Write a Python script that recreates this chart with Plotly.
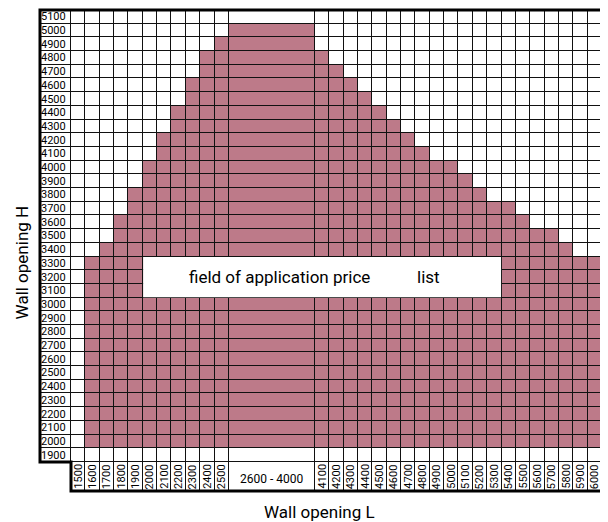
import plotly.graph_objects as go

# ---------------- data ----------------
row_labels = [1900, 2000, 2100, 2200, 2300, 2400, 2500, 2600, 2700, 2800, 2900,
              3000, 3100, 3200, 3300, 3400, 3500, 3600, 3700, 3800, 3900, 4000,
              4100, 4200, 4300, 4400, 4500, 4600, 4700, 4800, 4900, 5000, 5100]

col_labels = ["1500", "1600", "1700", "1800", "1900", "2000", "2100", "2200",
              "2300", "2400", "2500", "2600 - 4000", "4100", "4200", "4300",
              "4400", "4500", "4600", "4700", "4800", "4900", "5000", "5100",
              "5200", "5300", "5400", "5500", "5600", "5700", "5800", "5900",
              "6000", "6100"]

# highest filled H for each L column (None = empty column)
top_filled = [None, 3300, 3400, 3600, 3800, 4000, 4200, 4400, 4600, 4800, 4900,
              5000,
              4800, 4700, 4600, 4500, 4400, 4300, 4200, 4100, 4000, 4000, 3900,
              3800, 3700, 3700, 3600, 3500, 3500, 3400, 3300, 3300, None]
fill_bottom = 2000

box_cols = ("2000", "5300")
box_rows = (3100, 3300)
box_texts = ["field of application price", "list"]

x_title = "Wall opening L"
y_title = "Wall opening H"

# ---------------- layout constants ----------------
MAUVE = "#bd7a89"
FONT_N = "Roboto, Liberation Sans, sans-serif"
FONT_R = "Roboto, Liberation Sans, sans-serif"
LABEL_W = 2.16      # width of the H label column (cell units)
LABEL_H = 2.12      # height of the L label row (cell units)
MERGED_W = 6        # width of the merged 2600-4000 column
PXX, PXY = 14.35, 13.7
W, H = 600, 514     # page body has an 8px margin
ML, MT = 28, 0
PAD, PADT = 4, 2

widths = [MERGED_W if "-" in c else 1 for c in col_labels]
x_edges = [-LABEL_W, 0]
for w in widths:
    x_edges.append(x_edges[-1] + w)
n_rows = len(row_labels)
y_edges = [-LABEL_H] + list(range(n_rows + 1))

z = [[None] + [0] * len(col_labels)]
for r in row_labels:
    row = [0]
    for top in top_filled:
        row.append(1 if (top is not None and fill_bottom <= r <= top) else 0)
    z.append(row)

x0r = -LABEL_W - PAD / PXX
x1r = x0r + (W - ML) / PXX
plot_h = LABEL_H * PXY + n_rows * PXY + PAD + PADT
y0r = -LABEL_H - PAD / PXY
y1r = n_rows + PADT / PXY
MB = H - MT - plot_h

fig = go.Figure(go.Heatmap(
    x=x_edges, y=y_edges, z=z,
    colorscale=[[0, "white"], [1, MAUVE]], zmin=0, zmax=1,
    showscale=False, xgap=1, ygap=1, hoverinfo="skip",
))

xmax = x_edges[-1]
top = n_rows
shapes = [
    dict(type="path", layer="below", xref="x", yref="y",
         path=f"M {-LABEL_W},0 L {-LABEL_W},{top} L {xmax},{top} L {xmax},{-LABEL_H} L 0,{-LABEL_H} L 0,0 Z",
         fillcolor="#111111", line=dict(width=0)),
]
# white price-list box
ci0 = col_labels.index(box_cols[0])
ci1 = col_labels.index(box_cols[1])
bx0, bx1 = x_edges[ci0 + 1], x_edges[ci1 + 2]
by0 = row_labels.index(box_rows[0])
by1 = row_labels.index(box_rows[1]) + 1
shapes.append(dict(type="rect", xref="x", yref="y", x0=bx0 + 0.03, x1=bx1 - 0.03,
                   y0=by0 + 0.03, y1=by1 - 0.03, fillcolor="white", line=dict(width=0)))
# thick outer border
shapes.append(dict(type="path", xref="x", yref="y",
                   path=f"M {xmax},{top} L {-LABEL_W},{top} L {-LABEL_W},0 L 0,0 L 0,{-LABEL_H} L {xmax},{-LABEL_H}",
                   line=dict(color="black", width=3)))

annotations = []
for i, r in enumerate(row_labels):
    annotations.append(dict(x=-LABEL_W, y=i + 0.5, xref="x", yref="y", text=str(r),
                            showarrow=False, xanchor="left", yanchor="middle", xshift=-1,
                            font=dict(family=FONT_N, size=11, color="black")))
for j, c in enumerate(col_labels):
    xl, xr = x_edges[j + 1], x_edges[j + 2]
    xc = (xl + xr) / 2
    if "-" in c:
        annotations.append(dict(x=xc, y=-LABEL_H / 2, xref="x", yref="y", text=c,
                                showarrow=False, yshift=-3,
                                font=dict(family=FONT_R, size=12, color="black")))
    else:
        if xc < x1r:
            annotations.append(dict(x=xc, y=-LABEL_H, xref="x", yref="y", text=c,
                                    showarrow=False, textangle=-90, yanchor="bottom",
                                    font=dict(family=FONT_N, size=11, color="black")))
        else:
            annotations.append(dict(x=xl, y=-LABEL_H, xref="x", yref="y", text=c,
                                    showarrow=False, textangle=-90, yanchor="bottom",
                                    xanchor="left", xshift=1,
                                    font=dict(family=FONT_N, size=11, color="black")))

# texts in the box
for t, frac in zip(box_texts, [0.382, 0.796]):
    annotations.append(dict(x=bx0 + frac * (bx1 - bx0), y=(by0 + by1) / 2, xref="x", yref="y",
                            text=t, showarrow=False,
                            font=dict(family=FONT_N, size=17, color="black")))

annotations.append(dict(x=(311 - ML) / (W - ML), y=0, xref="paper", yref="paper",
                        text=x_title, showarrow=False, xanchor="center", yanchor="middle",
                        yshift=-17,
                        font=dict(family=FONT_N, size=17, color="black")))
annotations.append(dict(x=0, y=(MT + plot_h - 254.5) / plot_h, xref="paper", yref="paper",
                        text=y_title, showarrow=False, textangle=-90, xshift=-14,
                        xanchor="center", yanchor="middle",
                        font=dict(family=FONT_N, size=17, color="black")))

fig.update_layout(
    width=W, height=H,
    margin=dict(l=ML, r=0, t=MT, b=MB, pad=0),
    paper_bgcolor="white", plot_bgcolor="white",
    xaxis=dict(range=[x0r, x1r], visible=False, fixedrange=True),
    yaxis=dict(range=[y0r, y1r], visible=False, fixedrange=True),
    shapes=shapes, annotations=annotations, showlegend=False,
)

fig.write_html("out.html")
